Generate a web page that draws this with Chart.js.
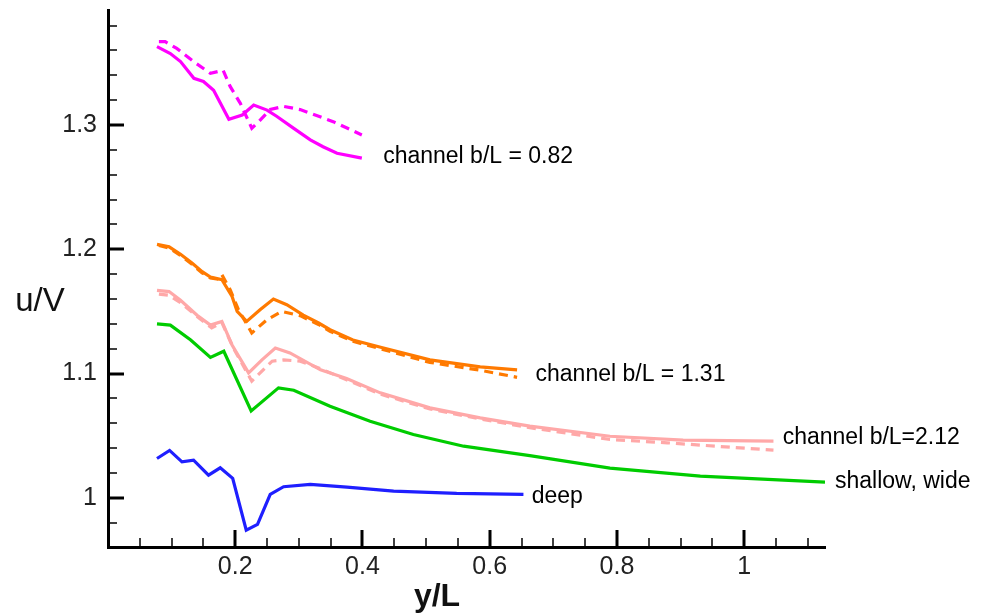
<!DOCTYPE html>
<html>
<head>
<meta charset="utf-8">
<script src="https://cdn.jsdelivr.net/npm/chart.js@4.4.1/dist/chart.umd.min.js"></script>
<style>
    body { margin: 0; background: #fff; }
    canvas { display: block; }
</style>
</head>
<body>
<canvas id="velChart" width="983" height="613"></canvas>
<script>
// y/L positions and u/V values
const chan082SolidX = [0.077, 0.098, 0.114, 0.135, 0.150, 0.166, 0.190, 0.211, 0.229, 0.250, 0.265, 0.292, 0.318, 0.338, 0.360, 0.399];
const chan082SolidY = [1.363, 1.3575, 1.351, 1.3375, 1.335, 1.328, 1.3046, 1.308, 1.316, 1.312, 1.307, 1.2973, 1.288, 1.2825, 1.2773, 1.2733];
const chan082DashX = [0.080, 0.090, 0.108, 0.1345, 0.161, 0.181, 0.192, 0.208, 0.226, 0.237, 0.255, 0.276, 0.302, 0.354, 0.399];
const chan082DashY = [1.367, 1.367, 1.3616, 1.351, 1.3415, 1.344, 1.331, 1.3174, 1.2974, 1.3027, 1.3124, 1.315, 1.3124, 1.3027, 1.292];

const chan131SolidX = [0.077, 0.096, 0.114, 0.132, 0.148, 0.161, 0.179, 0.195, 0.203, 0.218, 0.239, 0.260, 0.281, 0.307, 0.331, 0.349, 0.385, 0.430, 0.506, 0.585, 0.643];
const chan131SolidY = [1.204, 1.202, 1.196, 1.189, 1.182, 1.1777, 1.1755, 1.162, 1.150, 1.142, 1.1514, 1.160, 1.1554, 1.147, 1.1407, 1.1353, 1.127, 1.121, 1.111, 1.1054, 1.103];
const chan131DashX = [0.080, 0.096, 0.114, 0.132, 0.148, 0.161, 0.172, 0.179, 0.192, 0.205, 0.226, 0.250, 0.273, 0.302, 0.331, 0.349, 0.385, 0.428, 0.506, 0.585, 0.643];
const chan131DashY = [1.203, 1.201, 1.195, 1.188, 1.181, 1.177, 1.176, 1.1795, 1.1675, 1.1514, 1.1327, 1.1434, 1.150, 1.1466, 1.1395, 1.134, 1.126, 1.120, 1.109, 1.1027, 1.097];

const chan212SolidX = [0.077, 0.096, 0.114, 0.140, 0.161, 0.179, 0.195, 0.221, 0.242, 0.263, 0.286, 0.334, 0.375, 0.428, 0.506, 0.585, 0.663, 0.789, 0.904, 1.046];
const chan212SolidY = [1.167, 1.166, 1.159, 1.147, 1.139, 1.142, 1.123, 1.1006, 1.111, 1.1206, 1.1166, 1.103, 1.096, 1.0845, 1.0724, 1.0644, 1.0577, 1.0496, 1.0464, 1.0456];
const chan212DashX = [0.080, 0.096, 0.114, 0.140, 0.163, 0.179, 0.197, 0.226, 0.258, 0.276, 0.302, 0.331, 0.375, 0.428, 0.506, 0.585, 0.663, 0.789, 0.879, 1.046];
const chan212DashY = [1.164, 1.163, 1.157, 1.146, 1.1367, 1.141, 1.1206, 1.094, 1.110, 1.111, 1.110, 1.1046, 1.095, 1.0835, 1.0715, 1.0635, 1.0565, 1.047, 1.0443, 1.0384];

const shallowX = [0.077, 0.098, 0.130, 0.161, 0.182, 0.225, 0.268, 0.292, 0.349, 0.412, 0.480, 0.559, 0.663, 0.789, 0.931, 1.127];
const shallowY = [1.140, 1.139, 1.127, 1.113, 1.118, 1.070, 1.0885, 1.0866, 1.0737, 1.0617, 1.051, 1.0416, 1.034, 1.024, 1.0175, 1.0127];

const deepX = [0.077, 0.0968, 0.1163, 0.1345, 0.158, 0.1764, 0.196, 0.2173, 0.235, 0.255, 0.276, 0.318, 0.3755, 0.449, 0.548, 0.653];
const deepY = [1.0317, 1.0382, 1.029, 1.0304, 1.0183, 1.0242, 1.0157, 0.9741, 0.9787, 1.0028, 1.009, 1.0108, 1.0087, 1.0055, 1.0036, 1.0028];

const xTickLabels = ['0.2', '0.4', '0.6', '0.8', '1'];
const yTickLabels = ['1', '1.1', '1.2', '1.3'];

const curveLabels = [
    { text: 'channel b/L = 0.82', x: 0.4325, y: 1.2743 },
    { text: 'channel b/L = 1.31', x: 0.672, y: 1.0992 },
    { text: 'channel b/L=2.12', x: 1.0605, y: 1.0488 },
    { text: 'shallow, wide', x: 1.1427, y: 1.013 },
    { text: 'deep', x: 0.666, y: 1.0012 }
];

const FONT = '"Liberation Sans", Arial, sans-serif';

function pts(xs, ys) {
    return xs.map((x, i) => ({ x, y: ys[i] }));
}

function series(xs, ys, color, dashed) {
    return {
        data: pts(xs, ys),
        borderColor: color,
        borderWidth: 3.2,
        borderDash: dashed ? [9, 6] : [],
        pointRadius: 0,
        tension: 0,
        fill: false
    };
}

// inward ticks, tick labels, axis titles and curve captions
const decorPlugin = {
    id: 'decor',
    afterDraw(chart) {
        const { ctx, chartArea, scales: { x, y } } = chart;
        ctx.save();
        ctx.strokeStyle = '#000';

        // x ticks
        for (let i = 1; i * 0.05 <= 1.1 + 1e-9; i++) {
            const v = i * 0.05;
            const major = i % 4 === 0;
            const px = Math.round(x.getPixelForValue(v));
            ctx.lineWidth = major ? 3 : 1.5;
            ctx.beginPath();
            ctx.moveTo(px, chartArea.bottom);
            ctx.lineTo(px, chartArea.bottom - (major ? 17 : 9));
            ctx.stroke();
        }
        // y ticks
        for (let i = 49; i <= 69; i++) {
            const v = i * 0.02;
            const major = i % 5 === 0;
            const py = Math.round(y.getPixelForValue(v));
            ctx.lineWidth = major ? 3 : 1.5;
            ctx.beginPath();
            ctx.moveTo(chartArea.left, py);
            ctx.lineTo(chartArea.left + (major ? 16 : 9), py);
            ctx.stroke();
        }

        ctx.fillStyle = '#222';
        ctx.font = '25px ' + FONT;
        ctx.textAlign = 'center';
        ctx.textBaseline = 'middle';
        xTickLabels.forEach(t => {
            ctx.fillText(t, x.getPixelForValue(parseFloat(t)), chartArea.bottom + 20);
        });
        ctx.textAlign = 'right';
        yTickLabels.forEach(t => {
            ctx.fillText(t, chartArea.left - 11, y.getPixelForValue(parseFloat(t)));
        });

        ctx.fillStyle = '#111';
        ctx.textAlign = 'center';
        ctx.font = 'bold 32px ' + FONT;
        ctx.fillText('y/L', 437, 597);
        ctx.font = '33px ' + FONT;
        ctx.fillText('u/V', 40, 302);

        ctx.fillStyle = '#000';
        ctx.textAlign = 'left';
        ctx.font = '23px ' + FONT;
        curveLabels.forEach(l => {
            ctx.fillText(l.text, x.getPixelForValue(l.x), y.getPixelForValue(l.y));
        });
        ctx.restore();
    }
};

new Chart(document.getElementById('velChart').getContext('2d'), {
    type: 'line',
    data: {
        datasets: [
            series(chan082SolidX, chan082SolidY, '#ff00ff', false),
            series(chan082DashX, chan082DashY, '#ff00ff', true),
            series(chan131SolidX, chan131SolidY, '#ff7a00', false),
            series(chan131DashX, chan131DashY, '#ff7a00', true),
            series(chan212SolidX, chan212SolidY, '#ffa8a8', false),
            series(chan212DashX, chan212DashY, '#ffa8a8', true),
            series(shallowX, shallowY, '#00cc00', false),
            series(deepX, deepY, '#1f1fff', false)
        ]
    },
    options: {
        responsive: false,
        animation: false,
        devicePixelRatio: 1,
        layout: { padding: { left: 108, right: 158, top: 10, bottom: 66 } },
        plugins: {
            legend: { display: false },
            tooltip: { enabled: false }
        },
        scales: {
            x: {
                type: 'linear',
                min: 0,
                max: 1.127,
                grid: { display: false },
                ticks: { display: false },
                border: { display: true, width: 3, color: '#000' },
                afterFit: s => { s.height = 0; }
            },
            y: {
                type: 'linear',
                min: 0.9605,
                max: 1.3925,
                grid: { display: false },
                ticks: { display: false },
                border: { display: true, width: 3, color: '#000' },
                afterFit: s => { s.width = 0; }
            }
        }
    },
    plugins: [decorPlugin]
});
</script>
</body>
</html>
